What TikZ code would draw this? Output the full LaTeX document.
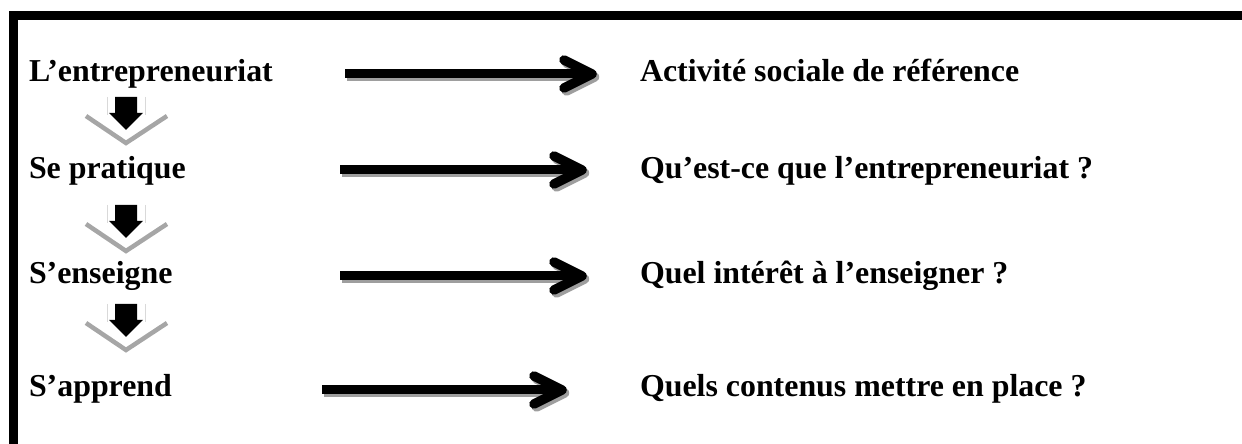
\documentclass[tikz,border=0pt]{standalone}
\usepackage{fontspec}
\setmainfont{Liberation Serif}
\begin{document}
\begin{tikzpicture}[x=1bp,y=-1bp, every node/.style={inner sep=0pt, outer sep=0pt}]
\useasboundingbox (0,0) rectangle (1242,444);
\colorlet{shadowgray}{black!38}
\colorlet{chevgray}{black!35}
\tikzset{
  lbl/.style={anchor=base west, font=\fontsize{32}{38}\selectfont\bfseries},
  shaftline/.style={line width=9bp, line cap=butt},
  headline/.style={line width=9.5bp, line cap=round, line join=round},
  chevline/.style={draw=chevgray, line width=4.5bp},
}
\newcommand\hArrow[2]{%
  \draw[shaftline, draw=shadowgray] ([xshift=2.5pt,yshift=-3pt]#1) -- ([xshift=-3pt,yshift=-3pt]#2);
  \draw[headline, draw=shadowgray] ([xshift=2.5pt,yshift=-3pt]#2) ++(-28,-14) -- ([xshift=2.5pt,yshift=-3pt]#2) -- ++(-28,14);
  \draw[shaftline] (#1) -- ([xshift=-4pt]#2);
  \draw[headline] (#2) ++(-28,-14) -- (#2) -- ++(-28,14);
}
% frame
\draw[line width=9bp] (13.5,444) -- (13.5,15.5) -- (1242,15.5);
% left labels
\node[lbl] (l1) at (29,82) {L’entrepreneuriat};
\node[lbl] (l2) at (29,179) {Se pratique};
\node[lbl] (l3) at (29,284) {S’enseigne};
\node[lbl] (l4) at (29,397) {S’apprend};
% right labels
\node[lbl] (r1) at (640,82) {Activité sociale de référence};
\node[lbl] (r2) at (640,179) {Qu’est-ce que l’entrepreneuriat ?};
\node[lbl] (r3) at (640,284) {Quel intérêt à l’enseigner ?};
\node[lbl] (r4) at (640,397) {Quels contenus mettre en place ?};
% arrow end points
\coordinate (a1s) at (345,74); \coordinate (a1e) at (592,74);
\coordinate (a2s) at (340,170); \coordinate (a2e) at (582,170);
\coordinate (a3s) at (340,276); \coordinate (a3e) at (582,276);
\coordinate (a4s) at (322,390); \coordinate (a4e) at (562,390);
\hArrow{a1s}{a1e}
\hArrow{a2s}{a2e}
\hArrow{a3s}{a3e}
\hArrow{a4s}{a4e}
% down chevrons
\foreach \yy in {97,205,304} {
  \begin{scope}[shift={(126,\yy)}]
    \draw[black!15, line width=0.8bp] (-19,0) -- (-19,18) (19,0) -- (19,18);
    \draw[chevline] (-40,19) -- (0,46) -- (41,19);
    \fill (-11,0) -- (11,0) -- (11,16) -- (17,16) -- (0,33) -- (-17,16) -- (-11,16) -- cycle;
  \end{scope}
}
\end{tikzpicture}
\end{document}
